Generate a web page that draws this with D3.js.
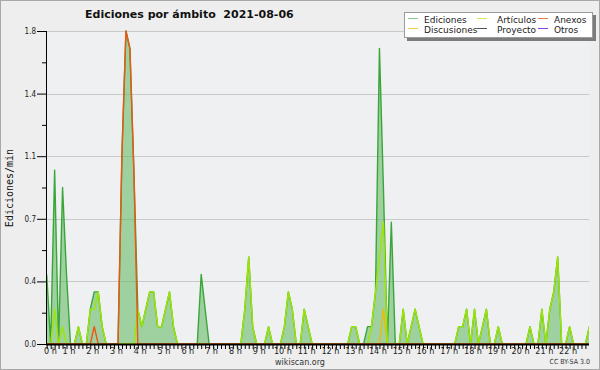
<!DOCTYPE html>
<html>
<head>
<meta charset="utf-8">
<script src="https://cdn.jsdelivr.net/npm/d3@7"></script>
<style>
  body { margin: 0; background: #eeeeee; }
  svg { display: block; }
</style>
</head>
<body>
<script>
// Ediciones por ámbito, 2021-08-06 — tramos de 10 minutos, valores en ediciones/min
var pasoMin = 10;
var horas = [0,1,2,3,4,5,6,7,8,9,10,11,12,13,14,15,16,17,18,19,20,21,22];
var yTicks = [0, 0.36, 0.72, 1.08, 1.44, 1.8];

var ediciones = [
  0.4,0,1.0,0,0.9,0.4,0,0,0.1,0,0,0.2,
  0.3,0.3,0.1,0,0,0,0,1.1,1.8,1.7,1.0,0.2,
  0.1,0.2,0.3,0.3,0.1,0.1,0.2,0.3,0.1,0,0,0,
  0,0,0,0.4,0.2,0,0,0,0,0,0,0,
  0,0,0.2,0.5,0.1,0,0,0,0.1,0,0,0,
  0.1,0.3,0.2,0,0,0.2,0.1,0,0,0,0,0,
  0,0,0,0,0,0.1,0.1,0,0,0.1,0.1,0.3,
  1.7,0.9,0,0.7,0,0,0.2,0,0.1,0.2,0.1,0,
  0,0,0,0,0,0,0,0,0.1,0.1,0.2,0,
  0.2,0,0.1,0.2,0,0,0.1,0,0,0,0,0,
  0,0,0.1,0,0,0.2,0,0.2,0.3,0.5,0,0,
  0.1,0,0,0,0,0.1
];
var articulos = [
  0,0,0.2,0,0.1,0,0,0,0.1,0,0,0.2,
  0.2,0.3,0.1,0,0,0,0,0,0,0,0,0.2,
  0.1,0.2,0.3,0.3,0.1,0.1,0.2,0.3,0.1,0,0,0,
  0,0,0,0,0,0,0,0,0,0,0,0,
  0,0,0.2,0.5,0.1,0,0,0,0.1,0,0,0,
  0.1,0.3,0.2,0,0,0.2,0.1,0,0,0,0,0,
  0,0,0,0,0,0.1,0.1,0,0,0,0.1,0.3,
  0.5,0.7,0,0,0,0,0.2,0,0.1,0.2,0.1,0,
  0,0,0,0,0,0,0,0,0.1,0.1,0.2,0,
  0.2,0,0.1,0.2,0,0,0.1,0,0,0,0,0,
  0,0,0.1,0,0,0.2,0,0.2,0.3,0.5,0,0,
  0.1,0,0,0,0,0.1
];
var discusiones = [
  0,0,0,0,0,0,0,0,0,0,0,0,
  0,0,0,0,0,0,0,0,0,0,0,0,
  0,0,0,0,0,0,0,0,0,0,0,0,
  0,0,0,0,0,0,0,0,0,0,0,0,
  0,0,0,0,0,0,0,0,0,0,0,0,
  0,0,0,0,0,0,0,0,0,0,0,0,
  0,0,0,0,0,0,0,0,0,0,0,0,
  0,0.2,0,0,0,0,0,0,0,0,0,0,
  0,0,0,0,0,0,0,0,0,0,0,0,
  0,0,0,0,0,0,0,0,0,0,0,0,
  0,0,0,0,0,0,0,0,0,0,0,0,
  0,0,0,0,0,0
];
var anexos = [
  0,0,0,0,0,0,0,0,0,0,0,0,
  0.1,0,0,0,0,0,0,1.1,1.8,1.7,1.0,0,
  0,0,0,0,0,0,0,0,0,0,0,0,
  0,0,0,0,0,0,0,0,0,0,0,0,
  0,0,0,0,0,0,0,0,0,0,0,0,
  0,0,0,0,0,0,0,0,0,0,0,0,
  0,0,0,0,0,0,0,0,0,0,0,0,
  0,0,0,0,0,0,0,0,0,0,0,0,
  0,0,0,0,0,0,0,0,0,0,0,0,
  0,0,0,0,0,0,0,0,0,0,0,0,
  0,0,0,0,0,0,0,0,0,0,0,0,
  0,0,0,0,0,0
];
var proyecto = [
  0,0,0,0,0,0,0,0,0,0,0,0,
  0,0,0,0,0,0,0,0,0,0,0,0,
  0,0,0,0,0,0,0,0,0,0,0,0,
  0,0,0,0,0,0,0,0,0,0,0,0,
  0,0,0,0,0,0,0,0,0,0,0,0,
  0,0,0,0,0,0,0,0,0,0,0,0,
  0,0,0,0,0,0,0,0,0,0,0,0,
  0,0,0,0,0,0,0,0,0,0,0,0,
  0,0,0,0,0,0,0,0,0,0,0,0,
  0,0,0,0,0,0,0,0,0,0,0,0,
  0,0,0,0,0,0,0,0,0,0,0,0,
  0,0,0,0,0,0
];
var otros = [
  0,0,0,0,0,0,0,0,0,0,0,0,
  0,0,0,0,0,0,0,0,0,0,0,0,
  0,0,0,0,0,0,0,0,0,0,0,0,
  0,0,0,0,0,0,0,0,0,0,0,0,
  0,0,0,0,0,0,0,0,0,0,0,0,
  0,0,0,0,0,0,0,0,0,0,0,0,
  0,0,0,0,0,0,0,0,0,0,0,0,
  0,0,0,0,0,0,0,0,0,0,0,0,
  0,0,0,0,0,0,0,0,0,0,0,0,
  0,0,0,0,0,0,0,0,0,0,0,0,
  0,0,0,0,0,0,0,0,0,0,0,0,
  0,0,0,0,0,0
];

var series = [
  {name: "Ediciones",   values: ediciones,   color: "#3aa63a", legend: "#88cc88"},
  {name: "Discusiones", values: discusiones, color: "#eebb00", legend: "#f5cf40"},
  {name: "Artículos",   values: articulos,   color: "#9ee600", legend: "#ccee55"},
  {name: "Proyecto",    values: proyecto,    color: "#555555", legend: "#555555"},
  {name: "Anexos",      values: anexos,      color: "#ee5511", legend: "#ee7744"},
  {name: "Otros",       values: otros,       color: "#8844dd", legend: "#8844dd"}
];

var W = 600, H = 370;
var margin = {left: 46, right: 11, top: 31, bottom: 26};
var width = W - margin.left - margin.right;
var height = H - margin.top - margin.bottom;

var svg = d3.select("body").append("svg")
    .attr("width", W)
    .attr("height", H);

svg.append("rect")
    .attr("x", 0.5).attr("y", 0.5)
    .attr("width", W - 1).attr("height", H - 1)
    .attr("fill", "#eeeeee")
    .attr("stroke", "#a8a8a8");

var x = d3.scaleLinear()
    .domain([-1.8, 1369])
    .range([margin.left, margin.left + width]);

var y = d3.scaleLinear()
    .domain([0, 1.8])
    .range([margin.top + height, margin.top]);

svg.append("rect")
    .attr("x", margin.left).attr("y", margin.top)
    .attr("width", width).attr("height", height)
    .attr("fill", "#eff0f1");

svg.append("clipPath").attr("id", "clip")
  .append("rect")
    .attr("x", margin.left).attr("y", margin.top - 2)
    .attr("width", width).attr("height", height + 2);

// gridlines
svg.append("g").selectAll("line")
    .data(yTicks.slice(1))
  .enter().append("line")
    .attr("x1", margin.left).attr("x2", margin.left + width)
    .attr("y1", d => Math.round(y(d)) + 0.5)
    .attr("y2", d => Math.round(y(d)) + 0.5)
    .attr("stroke", "#c9c9c9");

var plot = svg.append("g").attr("clip-path", "url(#clip)");

var area = d3.area()
    .x((d, i) => x(i * pasoMin))
    .y0(y(0))
    .y1(d => y(d));

var line = d3.line()
    .x((d, i) => x(i * pasoMin))
    .y(d => y(d));

plot.append("path")
    .attr("d", area(ediciones))
    .attr("fill", "#5db85d")
    .attr("fill-opacity", 0.55);

// draw order: total first, then the namespaces above it
var drawOrder = [0, 3, 5, 1, 2, 4];
drawOrder.forEach(function(k) {
  var s = series[k];
  plot.append("path")
      .attr("d", line(s.values))
      .attr("fill", "none")
      .attr("stroke", s.color)
      .attr("stroke-width", 1.4)
      .attr("stroke-linejoin", "round");
});

// axes
var tickFont = "'Liberation Sans Narrow','DejaVu Sans Condensed','DejaVu Sans',sans-serif";

var yAxis = d3.axisLeft(y)
    .tickValues(yTicks)
    .tickFormat(d3.format(".1f"))
    .tickSize(9)
    .tickPadding(1);

var yMinor = [];
for (var k = 0; k < yTicks.length - 1; k++) yMinor.push((yTicks[k] + yTicks[k + 1]) / 2);

var yg = svg.append("g")
    .attr("transform", "translate(" + margin.left + ",0)")
    .call(yAxis);
yg.select(".domain").remove();
yg.selectAll("text").attr("font-family", tickFont).attr("font-size", 8).attr("fill", "#222");

svg.append("g")
    .attr("transform", "translate(" + margin.left + ",0)")
    .call(d3.axisLeft(y).tickValues(yMinor).tickSize(4).tickFormat(""))
    .select(".domain").remove();

svg.append("line")
    .attr("x1", margin.left + 0.5).attr("x2", margin.left + 0.5)
    .attr("y1", margin.top).attr("y2", margin.top + height + 1)
    .attr("stroke", "#000");

var xg = svg.append("g")
    .attr("transform", "translate(0," + (margin.top + height + 1) + ")")
    .call(d3.axisBottom(x).tickValues(d3.range(0, 1370, pasoMin)).tickSize(4).tickFormat(""));
xg.select(".domain").remove();

svg.append("line")
    .attr("x1", margin.left).attr("x2", margin.left + width)
    .attr("y1", margin.top + height + 0.5).attr("y2", margin.top + height + 0.5)
    .attr("stroke", "#000").attr("stroke-width", 2);

svg.append("g").selectAll("text")
    .data(horas)
  .enter().append("text")
    .attr("x", d => Math.max(x(d * 60) - 1.5, margin.left + 4.5))
    .attr("y", 354)
    .attr("text-anchor", "middle")
    .attr("font-family", tickFont)
    .attr("font-size", 9)
    .attr("fill", "#222")
    .text(d => d + " h");

// title and labels
svg.append("text")
    .attr("x", 85).attr("y", 18)
    .attr("font-family", "'DejaVu Sans',sans-serif")
    .attr("font-weight", "bold")
    .attr("font-size", 11)
    .attr("fill", "#111")
    .attr("xml:space", "preserve")
    .text("Ediciones por ámbito  2021-08-06");

svg.append("text")
    .attr("transform", "translate(13,188) rotate(-90)")
    .attr("text-anchor", "middle")
    .attr("font-family", "'DejaVu Sans Mono',monospace")
    .attr("font-size", 10)
    .attr("fill", "#111")
    .text("Ediciones/min");

svg.append("text")
    .attr("x", 300).attr("y", 365)
    .attr("text-anchor", "middle")
    .attr("font-family", "'DejaVu Sans',sans-serif")
    .attr("font-size", 8)
    .attr("fill", "#333")
    .text("wikiscan.org");

svg.append("text")
    .attr("x", 590).attr("y", 364)
    .attr("text-anchor", "end")
    .attr("font-family", tickFont)
    .attr("font-size", 7)
    .attr("fill", "#333")
    .text("CC BY-SA 3.0");

// legend
var legend = svg.append("g").attr("class", "legend");
legend.append("rect")
    .attr("x", 407).attr("y", 15)
    .attr("width", 189).attr("height", 26)
    .attr("fill", "#7c7c7c");
legend.append("rect")
    .attr("x", 404.5).attr("y", 12.5)
    .attr("width", 188).attr("height", 25)
    .attr("fill", "#ffffff")
    .attr("stroke", "#9a9a9a");

var legCols = [408, 477, 538];
var legRows = [18.5, 28.5];

var item = legend.selectAll("g.item")
    .data(series)
  .enter().append("g")
    .attr("class", "item")
    .attr("transform", (d, i) => "translate(" + legCols[Math.floor(i / 2)] + "," + legRows[i % 2] + ")");

item.append("line")
    .attr("x1", 0).attr("x2", 10)
    .attr("stroke", d => d.legend)
    .attr("stroke-width", 1);

item.append("text")
    .attr("x", (d, i) => Math.floor(i / 2) == 1 ? 20 : 16)
    .attr("y", 4)
    .attr("font-family", "'DejaVu Sans',sans-serif")
    .attr("font-size", 9)
    .attr("fill", "#222")
    .text(d => d.name);
</script>
</body>
</html>
